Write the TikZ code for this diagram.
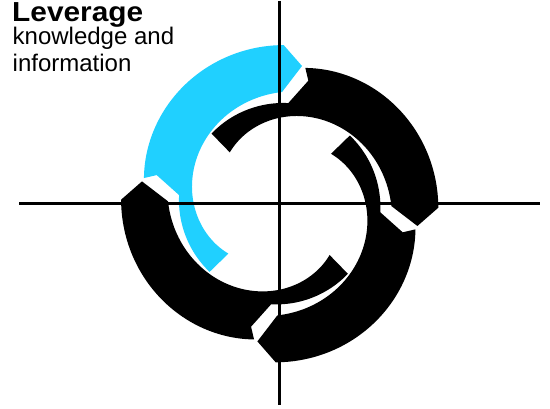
\documentclass[tikz,border=0pt]{standalone}
\usepackage{fontspec}
\setmainfont{Liberation Sans}
\definecolor{swirlcyan}{RGB}{32,208,255}
\newcommand\swirlseg[2]{%
  \fill[#2, rotate=#1]
    (224.2:71.5)
    -- plot[domain=0:135.4, samples=70] ({224.2-\x}:{111.7-0.2529*(135.4-\x)-0.000325*(135.4-\x)*(135.4-\x)})
    -- (80.8:139.5)
    -- (88.5:158.5)
    -- plot[domain=88.5:169.3, samples=60] (\x:{158.6-0.082*(\x-89.5)-0.002187*(\x-89.5)*(\x-89.5)})
    -- (166.9:126.3)
    -- (175.1:101)
    -- plot[domain=175.1:224.2, samples=30] (\x:{97.8+0.065*(224.2-\x)})
    -- cycle;}
\begin{document}
\begin{tikzpicture}[x=1pt,y=1pt]
\tikzset{
  axisline/.style={line width=2.5pt, black},
  labeltext/.style={anchor=base west, inner sep=0pt, font=\fontsize{24}{27}\selectfont},
  titletext/.style={anchor=base west, inner sep=0pt, text height=20pt, text depth=6pt, xscale=1.085, font=\bfseries\fontsize{27.5}{30}\selectfont}
}
\useasboundingbox (0,0) rectangle (550,-409);
\fill[white] (0,0) rectangle (550,-409);
\begin{scope}[shift={(279.7,-203.7)}]
  \swirlseg{0}{swirlcyan}
  \swirlseg{-90}{black}
  \swirlseg{-180}{black}
  \swirlseg{90}{black}
\end{scope}
\coordinate (hl) at (19.3,-203.7);
\coordinate (hr) at (540,-203.7);
\coordinate (vt) at (279.7,-1);
\coordinate (vb) at (279.7,-405);
\draw[axisline] (hl) -- (hr);
\draw[axisline] (vt) -- (vb);
\node[titletext] (title) at (12,-21.5) {Leverage};
\node[labeltext] (lineone) at (12.5,-45) {knowledge and};
\node[labeltext] (linetwo) at (12.5,-71.5) {information};
\end{tikzpicture}
\end{document}
